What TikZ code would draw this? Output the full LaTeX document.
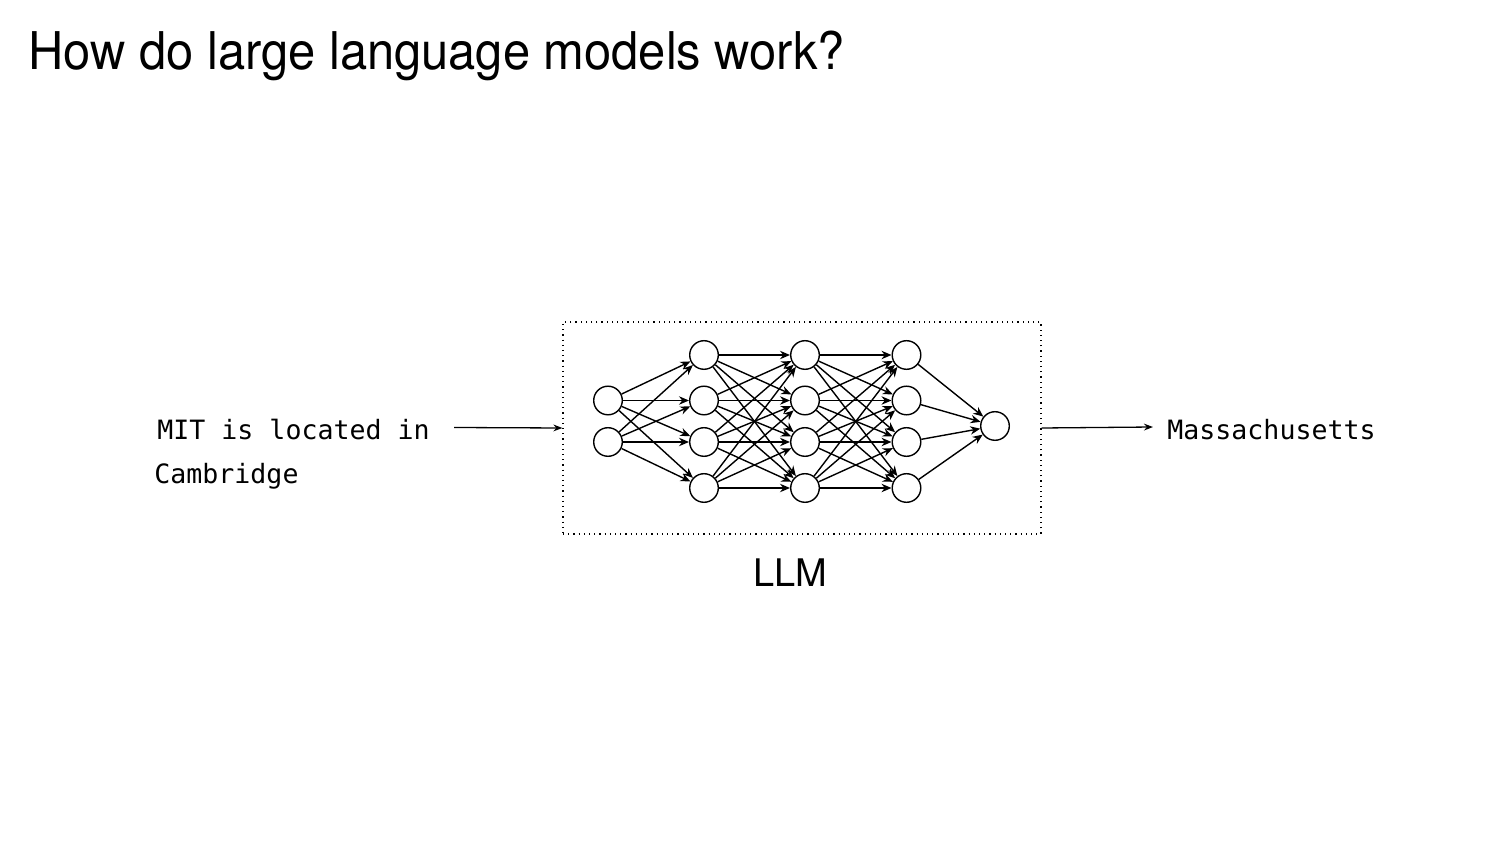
\documentclass[tikz,border=0pt]{standalone}
\usepackage{fontspec}
\setmainfont{TeX Gyre Heros}
\newfontfamily\titlef[FakeStretch=0.94]{TeX Gyre Heros}
\newfontfamily\monof{DejaVu Sans Mono}
\usetikzlibrary{arrows.meta}
\begin{document}
\begin{tikzpicture}[x=0.5pt,y=-0.5pt,
  neuron/.style={circle,draw,line width=0.7pt,minimum size=14.3pt,inner sep=0pt},
  edge/.style={line width=0.7pt,-{Stealth[length=5pt,width=4.2pt]}},
  flow/.style={line width=0.65pt,-{Stealth[length=4.5pt,width=3.4pt]}},
  monotxt/.style={font=\monof\fontsize{13.3}{16}\selectfont,inner sep=0pt,anchor=base west},
  llmbox/.style={draw,dotted,line width=0.6pt,minimum width=239pt,minimum height=106pt,inner sep=0pt}]
\useasboundingbox (0,0) rectangle (1500,844);
\node[inner sep=0pt,anchor=base west,font=\titlef\fontsize{26}{30}\selectfont] (title) at (28,70) {How do large language models work?};
\node[llmbox] (box) at (802,428) {};
\node[inner sep=0pt,anchor=base,font=\fontsize{19}{23}\selectfont] (llm) at (790,587) {LLM};
% layers
\node[neuron] (a1) at (608,400.5) {};
\node[neuron] (a2) at (608,442) {};
\foreach \j/\y in {1/355,2/400.5,3/442,4/488}{
  \node[neuron] (b\j) at (704,\y) {};
  \node[neuron] (c\j) at (805,\y) {};
  \node[neuron] (d\j) at (906.5,\y) {};
}
\node[neuron] (o) at (995,426) {};
\foreach \i in {1,2}{\foreach \j in {1,...,4}{\draw[edge] (a\i) -- (b\j);}}
\foreach \i in {1,...,4}{\foreach \j in {1,...,4}{\draw[edge] (b\i) -- (c\j); \draw[edge] (c\i) -- (d\j);}}
\foreach \i in {1,...,4}{\draw[edge] (d\i) -- (o);}
% texts
\node[monotxt] (in1) at (157,440) {MIT is located in};
\node[monotxt] (in2) at (154,484) {Cambridge};
\node[monotxt] (out) at (1167,440) {Massachusetts};
\coordinate (inS) at (454,427.5);
\coordinate (outE) at (1153,427);
\draw[flow] (inS) -- (box.west);
\draw[flow] (box.east) -- (outE);
\end{tikzpicture}
\end{document}
